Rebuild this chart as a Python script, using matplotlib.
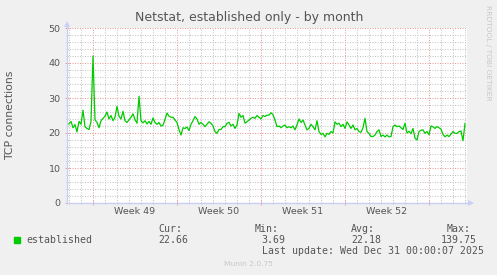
import matplotlib
matplotlib.use('Agg')
import matplotlib.pyplot as plt
from matplotlib.ticker import MultipleLocator, FixedLocator, NullFormatter

# ---------------- data ----------------
title = "Netstat, established only - by month"
ylabel = "TCP connections"
week_labels = ["Week 49", "Week 50", "Week 51", "Week 52"]
week_start_days = [0, 7, 14, 21, 28]          # days since Mon Dec 1 2025
view_days = (-26 / 12, 374 / 12)              # visible time window (days)

# samples every 4 hours, hours since Dec 1 2025 00:00
hours = list(range(-52, 745, 4))
established = [
    22.6, 22.6, 23.3, 21.5, 22.4, 20.3, 23.3, 22.5, 26.5, 21.8,
    21.3, 21.0, 23.3, 42.0, 23.8, 23.0, 21.5, 23.5, 24.2, 24.8,
    26.0, 24.0, 25.0, 23.5, 24.5, 27.6, 24.8, 24.0, 26.2, 23.5,
    23.0, 23.8, 24.5, 25.5, 23.8, 22.8, 30.5, 23.5, 22.9, 23.5,
    22.6, 23.3, 22.5, 24.3, 23.0, 22.5, 23.0, 22.0, 22.2, 24.0,
    25.7, 24.8,
    24.5, 24.5, 23.7, 23.0, 21.0, 19.4, 21.5, 21.3, 21.7, 20.7,
    22.5, 23.5, 24.7, 24.0, 22.5, 23.0, 22.5, 21.8, 22.5, 23.2,
    22.8, 22.0, 20.4, 19.9, 21.0, 21.0, 21.8, 21.8, 22.8, 23.0,
    22.0, 22.5, 21.3, 22.3, 25.6, 24.5, 25.0, 22.8, 23.2, 23.7,
    24.2, 24.5, 24.2, 25.0, 24.5, 24.0, 25.0, 24.7, 25.1, 25.1,
    25.8, 25.2, 23.7, 21.8, 22.0, 21.5, 22.0, 22.3, 21.5, 21.8,
    21.5, 22.0, 20.9, 22.3, 24.0, 23.0, 23.7, 22.3, 20.9, 21.3,
    22.5, 21.8, 20.9, 23.5, 20.4, 19.6, 19.9, 18.9, 19.9, 19.6,
    20.4, 20.0, 23.2, 22.5, 22.8, 21.8, 22.5, 21.3, 23.2, 22.3,
    21.3, 22.3, 20.9, 21.3, 20.4, 20.2, 21.5, 24.2, 20.4, 19.9,
    19.0, 19.0, 19.4, 20.4, 20.9, 19.0, 19.4, 18.9, 19.4, 18.9,
    19.0, 21.8, 22.3, 21.8, 22.0, 21.5, 21.0, 22.8, 20.0, 20.5,
    19.8, 21.3, 18.5, 18.0, 20.4, 20.8, 20.9, 19.9, 20.4, 19.5,
    22.0, 21.8, 21.3, 21.8, 21.5, 21.1, 19.6, 18.9, 19.4, 19.0,
    19.7, 20.4, 19.9, 19.9, 20.4, 20.6, 17.8, 22.7,
]

legend_name = "established"
stat_cur, stat_min, stat_avg, stat_max = "22.66", "3.69", "22.18", "139.75"
last_update = "Last update: Wed Dec 31 00:00:07 2025"
version = "Munin 2.0.75"
watermark = "RRDTOOL / TOBI OETIKER"

# ---------------- style ----------------
W, H = 497, 275
BG = '#F0F0F0'
FONT_C = '#555555'
AXIS_C = '#C8D0F6'
MGRID = '#EA9C9C'
GRID = '#C6C6C6'
LINE_C = '#00CC00'

fig = plt.figure(figsize=(W / 100, H / 100), dpi=100, facecolor=BG)


def fx(x):
    return x / W


def fy(y):
    return 1 - y / H


L, R, T, B = 67, 467, 28, 203
ax = fig.add_axes([fx(L), fy(B), (R - L) / W, (B - T) / H])
ax.set_facecolor('white')

days = [h / 24 for h in hours]
ax.plot(days, established, color=LINE_C, lw=0.9, zorder=3)

ax.set_xlim(*view_days)
ax.set_ylim(0, 50)

# grid
ax.yaxis.set_major_locator(MultipleLocator(10))
ax.yaxis.set_minor_locator(MultipleLocator(2))
ax.xaxis.set_major_locator(FixedLocator(week_start_days))
ax.xaxis.set_minor_locator(MultipleLocator(1))
ax.xaxis.set_major_formatter(NullFormatter())
ax.grid(which='minor', color=GRID, lw=0.75, ls=(0, (1, 1.4)), zorder=1)
ax.grid(which='major', color=MGRID, lw=0.75, ls=(0, (1, 1.4)), zorder=1)
ax.set_axisbelow(True)

for s in ax.spines.values():
    s.set_visible(False)

ax.tick_params(axis='both', which='major', direction='inout', length=3, width=0.7,
               color=MGRID, labelsize=6.8, labelcolor=FONT_C, pad=3)
ax.tick_params(axis='both', which='minor', direction='inout', length=2, width=0.7,
               color=GRID)
ax.tick_params(axis='x', which='major', pad=2)

# axis lines with arrows
ax.plot([0, 0], [0, 1.013], transform=ax.transAxes, color=AXIS_C, lw=1.0,
        clip_on=False, zorder=4)
ax.plot([0, 1.004], [0, 0], transform=ax.transAxes, color=AXIS_C, lw=1.0,
        clip_on=False, zorder=4)
ax.plot([0], [1.025], marker='^', ms=4, color=AXIS_C, transform=ax.transAxes,
        clip_on=False, zorder=4, mew=0)
ax.plot([1.0095], [0], marker='>', ms=4, color=AXIS_C, transform=ax.transAxes,
        clip_on=False, zorder=4, mew=0)

# week labels at mid-week
label_y = -(212 - B) / (B - T)
for i, lab in enumerate(week_labels):
    mid = (week_start_days[i] + week_start_days[i + 1]) / 2
    ax.text(mid, label_y, lab, transform=ax.get_xaxis_transform(), ha='center',
            va='center', fontsize=6.8, color=FONT_C)

# title and labels
fig.text(fx(249), fy(18), title, ha='center', va='center', fontsize=9.0, color=FONT_C)
fig.text(fx(10), fy(115), ylabel, ha='center', va='center', rotation=90,
         fontsize=7.8, color=FONT_C)

# legend area (monospace)
mono = dict(family='DejaVu Sans Mono', fontsize=7.1, color=FONT_C, va='center', ha='left')
fig.patches.append(plt.Rectangle((fx(14), fy(243)), 6 / W, 6 / H, transform=fig.transFigure,
                                 color=LINE_C, figure=fig))
fig.text(fx(26), fy(240), legend_name, **mono)
fig.text(fx(158.3), fy(228.5), "Cur:", **mono)
fig.text(fx(158.3), fy(240), stat_cur, **mono)
fig.text(fx(254.7), fy(228.5), "Min:", **mono)
fig.text(fx(261), fy(240), stat_min, **mono)
fig.text(fx(351), fy(228.5), "Avg:", **mono)
fig.text(fx(351), fy(240), stat_avg, **mono)
fig.text(fx(446.7), fy(228.5), "Max:", **mono)
fig.text(fx(441), fy(240), stat_max, **mono)
fig.text(fx(261.7), fy(251.5), last_update, **mono)

fig.text(fx(248), fy(264), version, ha='center', va='center', fontsize=5.4, color='#C8C8C8')
fig.text(fx(488), fy(53), watermark, ha='center', va='center', rotation=270,
         fontsize=5.4, color='#C8C8C8')

fig.savefig('out.png', dpi=100, facecolor=BG)
